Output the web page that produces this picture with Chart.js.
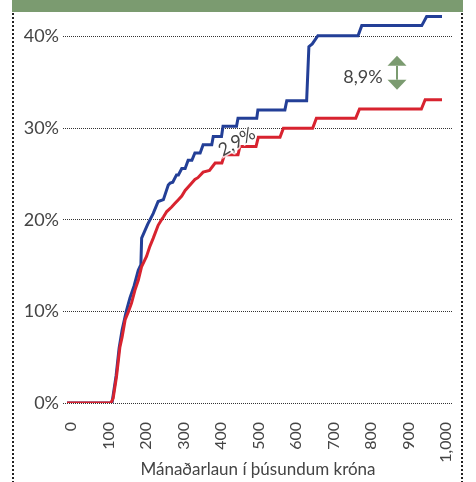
<!DOCTYPE html>
<html>
<head>
<meta charset="utf-8">
<script src="https://cdn.jsdelivr.net/npm/chart.js@4"></script>
<style>
  html, body { margin: 0; padding: 0; background: #fff; }
  canvas { display: block; }
</style>
</head>
<body>
<canvas id="chart" width="476" height="482"></canvas>
<script>
// monthly wage (thousand ISK) -> cumulative share (%)
const redWage = [0, 117, 123, 132, 141, 147, 155, 164, 172, 181, 190, 199, 212, 221, 230, 243, 252, 257, 266, 279, 288, 297, 306, 315, 328, 341, 349, 363, 380, 395, 413, 420, 456, 461, 504, 510, 568, 577, 655, 665, 770, 780, 945, 955, 1000];
const redShare = [0, 0, 0.5, 2.9, 6.1, 7.2, 9.1, 10, 10.9, 12.3, 13.4, 14.9, 16, 17.1, 18, 19.4, 20, 20.3, 20.9, 21.4, 21.8, 22.2, 22.6, 23.2, 23.8, 24.4, 24.6, 25.2, 25.4, 26.2, 26.2, 27.1, 27.1, 28, 28, 29, 29, 30, 30, 31.1, 31.1, 32.1, 32.1, 33.1, 33.1];

const blueWage = [0, 120, 131, 139, 147, 158, 168, 179, 190, 197, 199, 215, 230, 243, 257, 270, 275, 282, 292, 297, 306, 315, 323, 333, 341, 355, 363, 386, 390, 412, 416, 452, 456, 506, 509, 581, 586, 639, 645, 654, 669, 776, 786, 946, 959, 1000];
const blueShare = [0, 0, 3, 6, 8, 10, 11.5, 12.8, 14.5, 15.1, 18, 19.5, 20.7, 22, 22.2, 23.8, 24, 24.1, 24.9, 24.9, 25.6, 25.6, 26.5, 26.5, 27.3, 27.3, 28.2, 28.2, 29.1, 29.1, 30.2, 30.2, 31.1, 31.1, 32, 32, 33, 33, 38.9, 39.2, 40.1, 40.1, 41.2, 41.2, 42.2, 42.2];

const xTicks = [0, 100, 200, 300, 400, 500, 600, 700, 800, 900, 1000];
const xTickLabels = ["0", "100", "200", "300", "400", "500", "600", "700", "800", "900", "1,000"];
const yTicks = [0, 10, 20, 30, 40];
const yTickLabels = ["0%", "10%", "20%", "30%", "40%"];
const xTitle = "Mánaðarlaun í þúsundum króna";

// annotation positions in data units
const notes = [
  { text: "8,9%", x: 789, y: 35.6, rot: 0 },
  { text: "2,9%", x: 453, y: 28.5, rot: -30 }
];
const gapArrow = { x: 880, top: 37.9, bottom: 34.2 };

const FONT = "Lato, 'Open Sans', sans-serif";
const TEXT = "#444";
const GREEN = "#7b9b70";

const toPoints = (xs, ys) => xs.map((x, i) => ({ x: x, y: ys[i] }));

const decor = {
  id: "decor",
  beforeDraw(chart) {
    const ctx = chart.ctx;
    ctx.save();
    ctx.fillStyle = "#fff";
    ctx.fillRect(0, 0, chart.width, chart.height);
    ctx.restore();
  },
  afterDraw(chart) {
    const ctx = chart.ctx;
    const xs = chart.scales.x, ys = chart.scales.y;
    ctx.save();
    // frame
    ctx.fillStyle = GREEN;
    ctx.fillRect(12, 0, 451, 12);
    ctx.strokeStyle = "#222";
    ctx.lineWidth = 2;
    ctx.setLineDash([2, 2]);
    [13, 462].forEach((x) => {
      ctx.beginPath();
      ctx.moveTo(x, 13);
      ctx.lineTo(x, chart.height);
      ctx.stroke();
    });
    ctx.setLineDash([]);

    // labels
    ctx.font = "18px " + FONT;
    ctx.textAlign = "center";
    ctx.textBaseline = "middle";
    notes.forEach((n) => {
      ctx.save();
      ctx.translate(xs.getPixelForValue(n.x), ys.getPixelForValue(n.y));
      ctx.rotate(n.rot * Math.PI / 180);
      if (n.rot) {
        ctx.strokeStyle = "rgba(255,255,255,0.8)";
        ctx.lineWidth = 3;
        ctx.strokeText(n.text, 0, 0);
      }
      ctx.fillStyle = TEXT;
      ctx.fillText(n.text, 0, 0);
      ctx.restore();
    });

    // double arrow
    const ax = xs.getPixelForValue(gapArrow.x);
    const at = ys.getPixelForValue(gapArrow.top);
    const ab = ys.getPixelForValue(gapArrow.bottom);
    const hw = 9.5, hh = 10;
    ctx.fillStyle = GREEN;
    ctx.strokeStyle = GREEN;
    ctx.lineWidth = 2;
    ctx.beginPath();
    ctx.moveTo(ax, at + hh);
    ctx.lineTo(ax, ab - hh);
    ctx.stroke();
    ctx.beginPath();
    ctx.moveTo(ax, at);
    ctx.lineTo(ax + hw, at + hh);
    ctx.lineTo(ax - hw, at + hh);
    ctx.closePath();
    ctx.fill();
    ctx.beginPath();
    ctx.moveTo(ax, ab);
    ctx.lineTo(ax + hw, ab - hh);
    ctx.lineTo(ax - hw, ab - hh);
    ctx.closePath();
    ctx.fill();
    ctx.restore();
  }
};

new Chart(document.getElementById("chart"), {
  type: "line",
  data: {
    datasets: [
      {
        data: toPoints(redWage, redShare),
        borderColor: "#d8232f",
        borderWidth: 3,
        pointRadius: 0,
        tension: 0
      },
      {
        data: toPoints(blueWage, blueShare),
        borderColor: "#233f97",
        borderWidth: 3,
        pointRadius: 0,
        tension: 0
      }
    ]
  },
  options: {
    responsive: false,
    animation: false,
    layout: { padding: { top: 5, left: 14, right: 23, bottom: 0 } },
    plugins: { legend: { display: false }, tooltip: { enabled: false } },
    scales: {
      x: {
        type: "linear",
        min: -10.7,
        max: 1029.3,
        grid: { display: false },
        border: { display: false },
        afterBuildTicks: (scale) => { scale.ticks = xTicks.map((v) => ({ value: v })); },
        afterFit: (scale) => {
          scale.height = 79;
          scale.paddingLeft = 0;
          scale.paddingRight = 0;
        },
        ticks: {
          minRotation: 90,
          maxRotation: 90,
          autoSkip: false,
          padding: 11,
          labelOffset: 4,
          color: TEXT,
          font: { family: FONT, size: 16 },
          callback: (v) => xTickLabels[xTicks.indexOf(v)]
        },
        title: {
          display: true,
          text: xTitle,
          color: TEXT,
          font: { family: FONT, size: 17 },
          padding: { top: 0, bottom: 2 }
        }
      },
      y: {
        min: 0,
        max: 43.45,
        grid: { color: "#333", lineWidth: 1, drawTicks: false },
        border: { display: false, dash: [1, 1] },
        afterBuildTicks: (scale) => { scale.ticks = yTicks.map((v) => ({ value: v })); },
        afterFit: (scale) => {
          scale.width = 49;
          scale.paddingTop = 0;
          scale.paddingBottom = 0;
        },
        ticks: {
          padding: 4,
          color: TEXT,
          font: { family: FONT, size: 18 },
          callback: (v) => yTickLabels[yTicks.indexOf(v)]
        }
      }
    }
  },
  plugins: [decor]
});
</script>
</body>
</html>
